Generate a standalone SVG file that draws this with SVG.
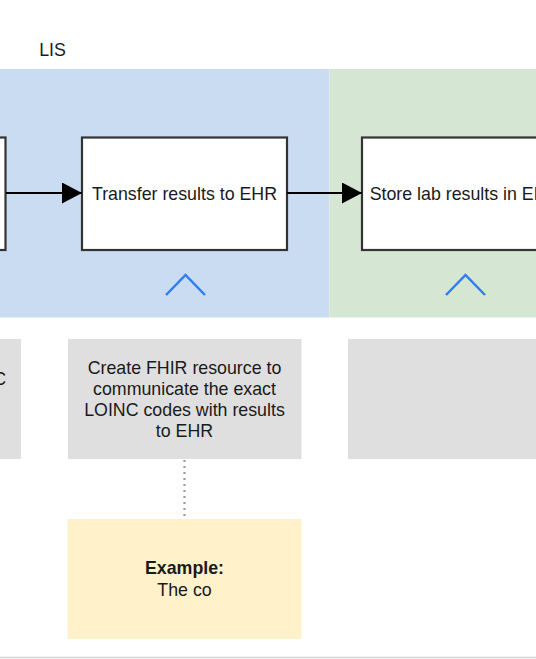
<svg xmlns="http://www.w3.org/2000/svg" width="536" height="659" viewBox="0 0 536 659">
<defs>
<style>
.t{font-family:"Liberation Sans",Arial,sans-serif;font-size:17.8px;fill:#1a1a1a;text-anchor:middle}
.box{fill:#ffffff;stroke:#333333;stroke-width:2.2}
.gray{fill:#dfdfdf}
.chev{fill:none;stroke:#2f7cf3;stroke-width:2.5}
.edge{fill:none;stroke:#000000;stroke-width:2.2}
</style>
<marker id="ah" markerWidth="20" markerHeight="21" refX="20" refY="10.5" orient="auto" markerUnits="userSpaceOnUse">
<path d="M0,0 L20,10.5 L0,21 Z" fill="#000000"/>
</marker>
</defs>
<rect width="536" height="659" fill="#ffffff"/>
<g id="lane-lis">
<rect x="0" y="69" width="329.5" height="248.5" fill="#c9dcf1"/>
<text class="t" x="52.5" y="56">LIS</text>
</g>
<g id="lane-ehr">
<rect x="329.5" y="69" width="206.5" height="248.5" fill="#d5e7d3"/>
</g>
<g id="node-prev">
<rect class="box" x="-200" y="137.5" width="205.5" height="112.5"/>
</g>
<g id="node-transfer">
<rect class="box" x="82" y="137.5" width="205" height="112.5"/>
<text class="t" x="184.5" y="199.5">Transfer results to EHR</text>
<polyline class="chev" points="166,295 185.5,275 205,295"/>
</g>
<g id="node-store">
<rect class="box" x="362" y="137.5" width="205" height="112.5"/>
<text class="t" x="464.5" y="199.5">Store lab results in EHR</text>
<polyline class="chev" points="446,295 465.5,275 485,295"/>
</g>
<g id="note-prev">
<rect class="gray" x="-200" y="339" width="221" height="120"/>
<text class="t" x="6" y="385" style="text-anchor:end">C</text>
</g>
<g id="note-transfer">
<rect class="gray" x="68" y="339" width="233.5" height="120"/>
<text class="t" x="184.5" y="374">Create FHIR resource to</text>
<text class="t" x="184.5" y="395">communicate the exact</text>
<text class="t" x="184.5" y="416">LOINC codes with results</text>
<text class="t" x="184.5" y="437">to EHR</text>
</g>
<g id="note-store">
<rect class="gray" x="348" y="339" width="200" height="120"/>
</g>
<g id="example">
<rect x="67.5" y="519" width="234" height="120" fill="#fff1c9"/>
<text class="t" x="184.5" y="574" style="font-weight:bold">Example:</text>
<text class="t" x="184.5" y="595.5">The co</text>
</g>
<g id="connectors">
<line class="edge" x1="6" y1="193" x2="82" y2="193" marker-end="url(#ah)"/>
<line class="edge" x1="287" y1="193" x2="362" y2="193" marker-end="url(#ah)"/>
<line x1="184.5" y1="460" x2="184.5" y2="518" stroke="#9a9a9a" stroke-width="2.2" stroke-dasharray="2 4"/>
</g>
<line x1="0" y1="657.5" x2="536" y2="657.5" stroke="#d2d2d2" stroke-width="1.5"/>
</svg>
